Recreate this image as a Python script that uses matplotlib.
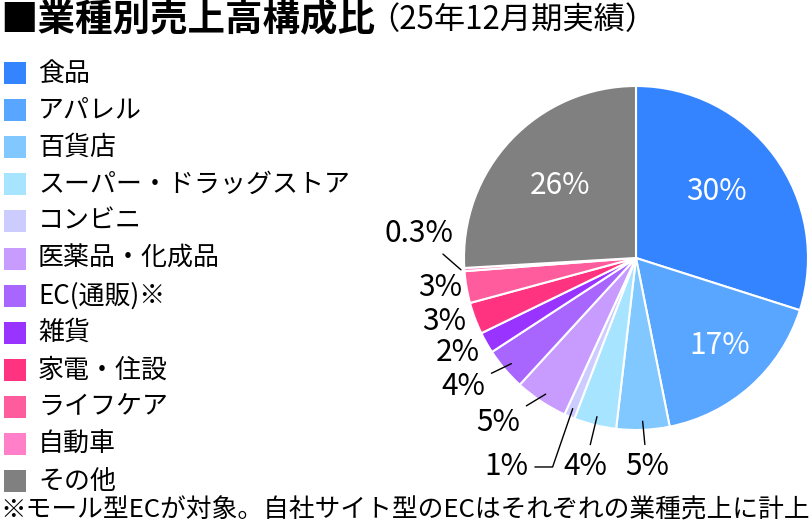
import numpy as np
import matplotlib
matplotlib.use("Agg")
import matplotlib.pyplot as plt
from matplotlib.patches import Rectangle

plt.rcParams['font.family'] = ['Noto Sans CJK JP', 'DejaVu Sans']

categories = ['食品', 'アパレル', '百貨店', 'スーパー・ドラッグストア', 'コンビニ',
              '医薬品・化成品', 'EC(通販)※', '雑貨', '家電・住設', 'ライフケア',
              '自動車', 'その他']
shares = [30, 17, 5, 4, 1, 5, 4, 2, 3, 3, 0.3, 26]
share_labels = ['30%', '17%', '5%', '4%', '1%', '5%', '4%', '2%', '3%', '3%', '0.3%', '26%']
colors = ['#3584ff', '#58a6ff', '#80c8ff', '#a6e4ff', '#ccccff', '#c89bff',
          '#a966ff', '#9933ff', '#ff3380', '#ff5c9e', '#ff80c8', '#808080']

# label placement (pie-radius units)
label_pos = [(0.465, 0.384), (0.488, -0.506), (0.064, -1.215), (-0.297, -1.215),
             (-0.756, -1.215), (-0.802, -0.959), (-1.006, -0.750), (-1.035, -0.552),
             (-1.116, -0.372), (-1.140, -0.174), (-1.262, 0.145), (-0.442, 0.424)]
leader = [False, False, True, True, True, True, True, False, False, False, True, False]

W, H = 812, 529
fig = plt.figure(figsize=(W / 100, H / 100), dpi=100)

# title
fig.text(0 / W, 1 - 19 / H, '■業種別売上高構成比', fontsize=27, fontweight='bold',
         va='center', ha='left')
fig.text(368 / W, 1 - 20 / H, '（25年12月期実績）', fontsize=22.5, va='center', ha='left')

# legend
for i, (cat, col) in enumerate(zip(categories, colors)):
    yc = 73 + i * 37.1
    fig.patches.append(Rectangle((4 / W, 1 - (yc + 11) / H), 22 / W, 22 / H,
                                 transform=fig.transFigure, facecolor=col,
                                 edgecolor='none'))
    fig.text(38 / W, 1 - yc / H, cat, fontsize=18.7, va='center', ha='left')

# footnote
fig.text(0 / W, 1 - 510 / H, '※モール型ECが対象。自社サイト型のECはそれぞれの業種売上に計上',
         fontsize=18.5, va='center', ha='left')

# pie
R = 172
cx, cy = 636, 258
ax = fig.add_axes([(cx - R) / W, 1 - (cy + R) / H, 2 * R / W, 2 * R / H])
wedges, _ = ax.pie(shares, colors=colors, startangle=90, counterclock=False,
                   wedgeprops=dict(edgecolor='white', linewidth=1.5))
ax.set_xlim(-1, 1)
ax.set_ylim(-1, 1)
ax.set_aspect('equal')
ax.axis('off')

total = sum(shares)
cum = np.cumsum([0] + shares[:-1])
for i, lab in enumerate(share_labels):
    theta = np.deg2rad(90 - 360 * (cum[i] + shares[i] / 2) / total)
    tx, ty = label_pos[i]
    col = 'white' if i in (0, 1, 11) else 'black'
    if leader[i]:
        r = 1.02 if i == 10 else 0.95
        xy = (r * np.cos(theta), r * np.sin(theta))
        cs = 'angle,angleA=0,angleB=71,rad=0' if i == 4 else 'arc3'
        ax.annotate(lab, xy=xy, xytext=(tx, ty), fontsize=21.5, color=col,
                    ha='center', va='center', annotation_clip=False,
                    arrowprops=dict(arrowstyle='-', color='black', lw=1,
                                    shrinkA=3, shrinkB=0, connectionstyle=cs))
    else:
        ax.text(tx, ty, lab, fontsize=21.5, color=col, ha='center', va='center')

fig.savefig('out.png', dpi=100, facecolor='white')
